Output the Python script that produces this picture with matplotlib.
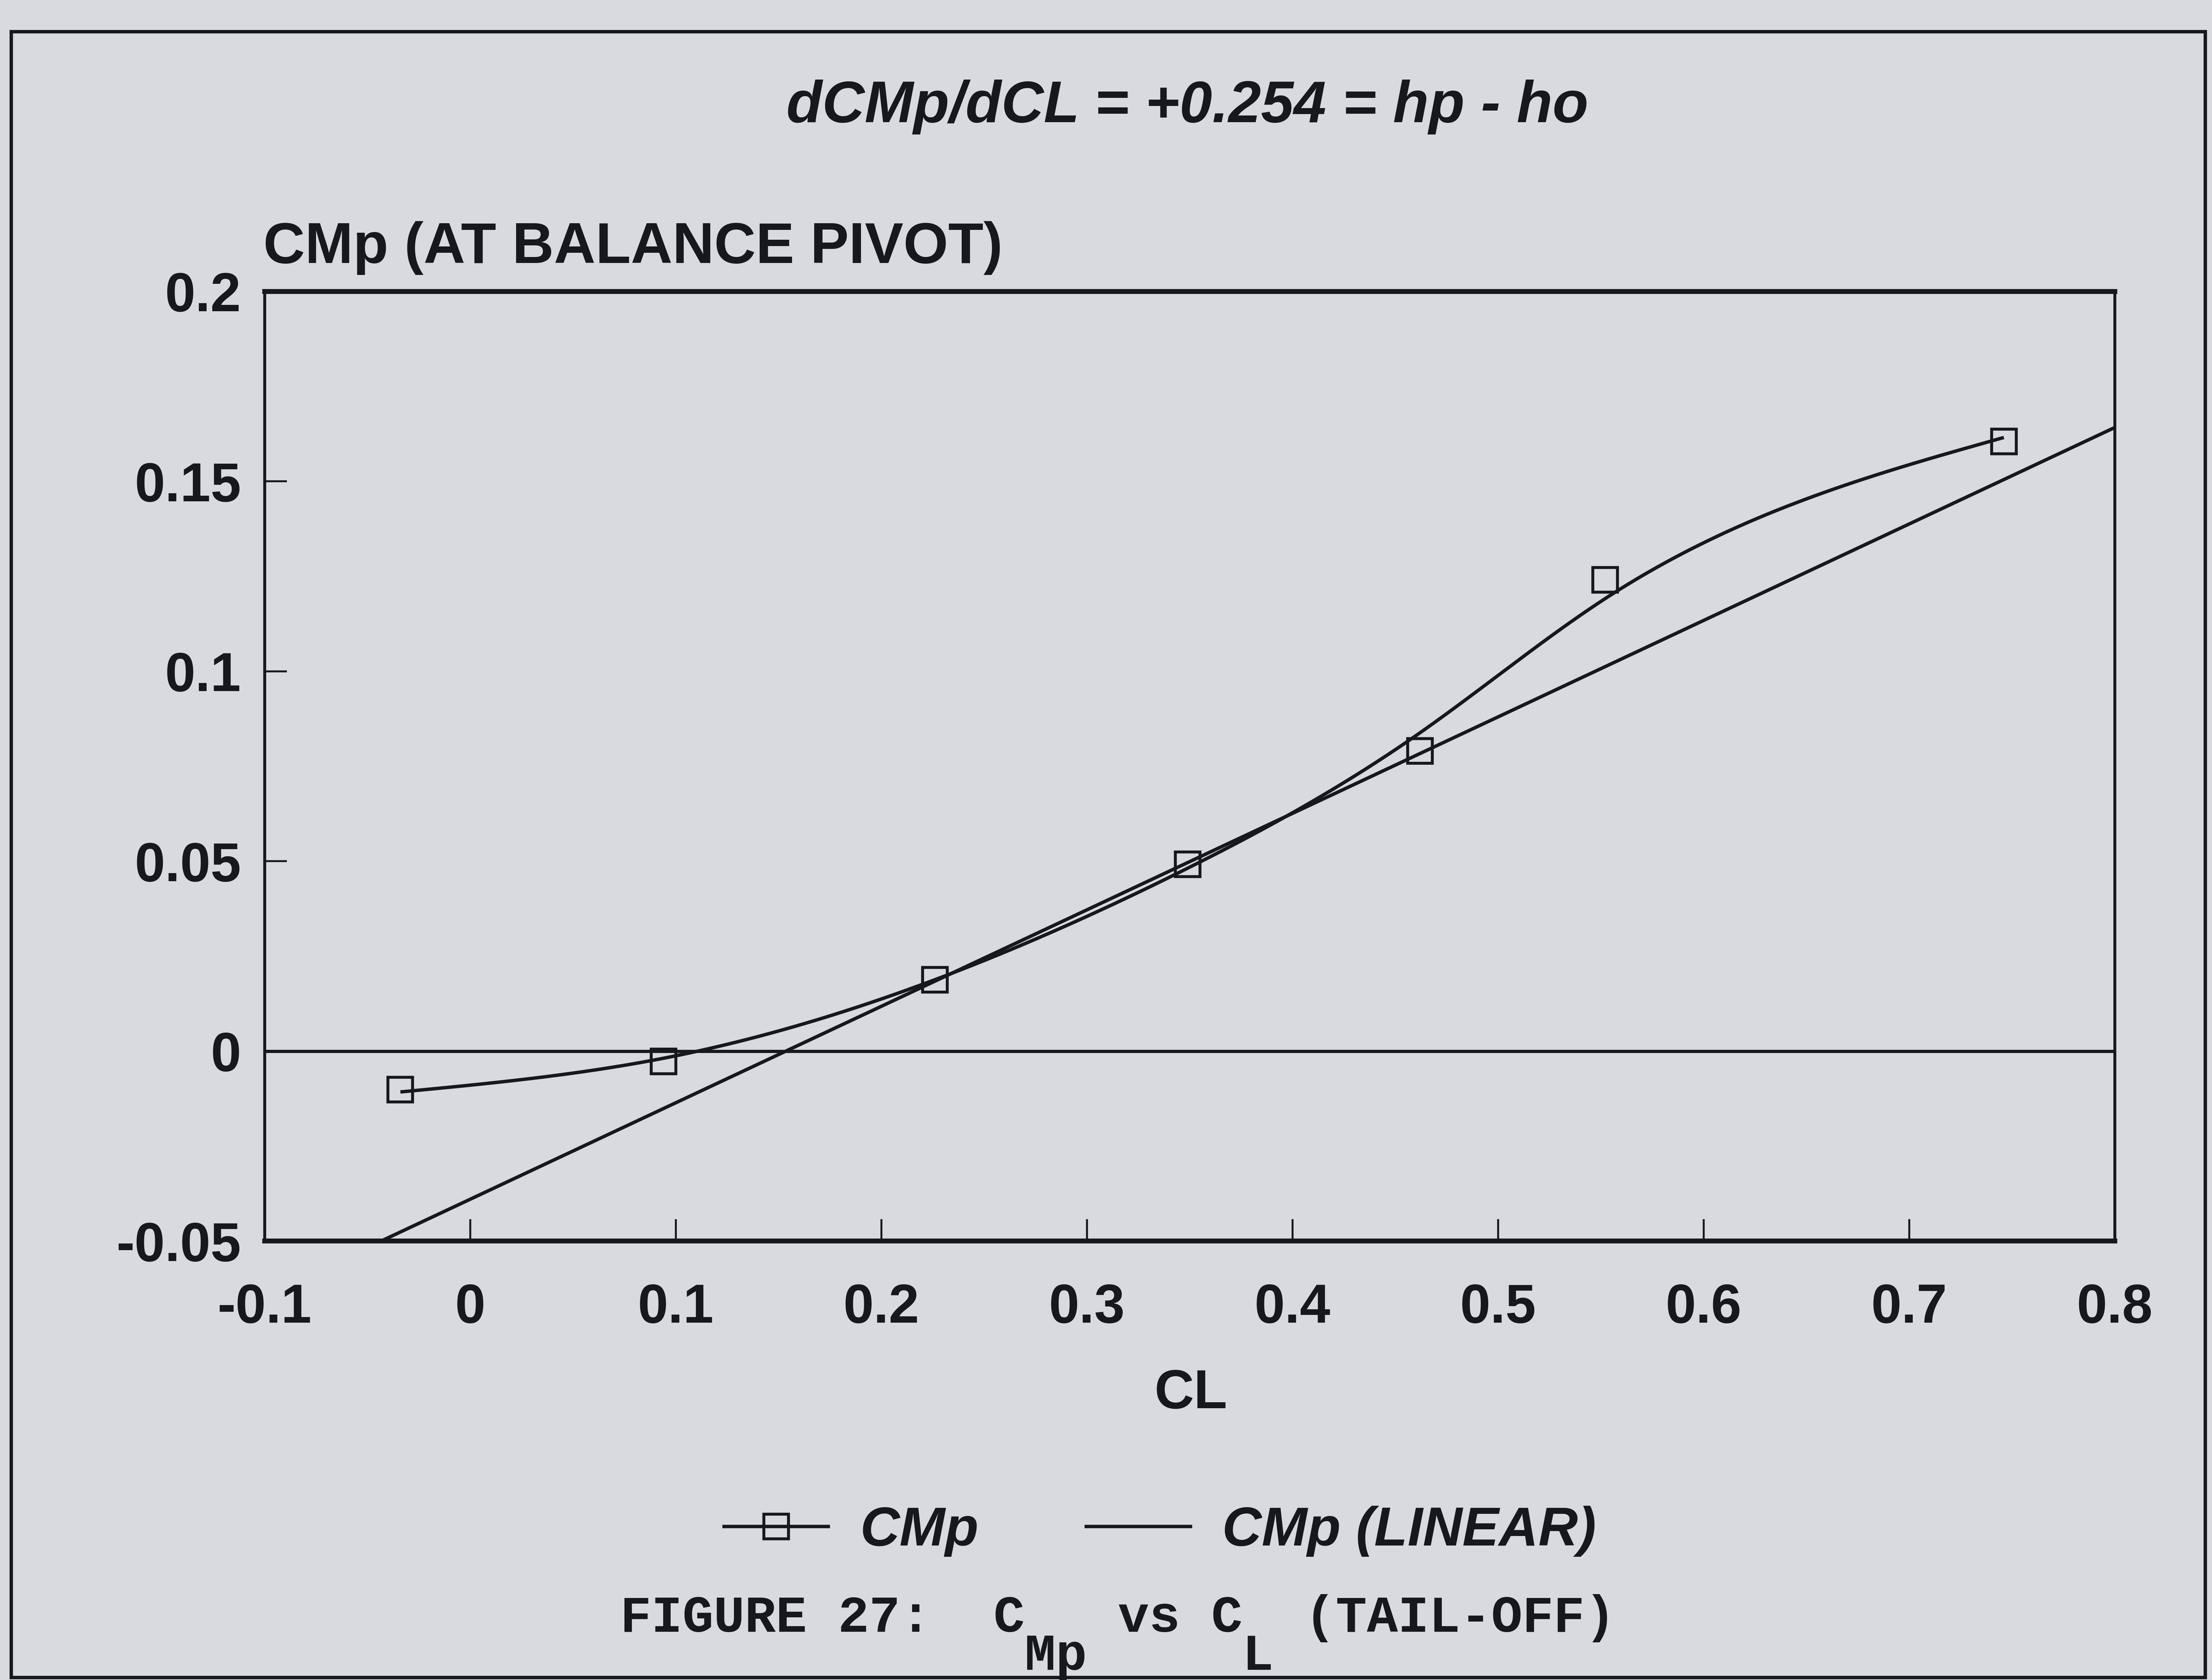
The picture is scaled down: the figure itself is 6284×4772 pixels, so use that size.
import matplotlib
matplotlib.use("Agg")
import matplotlib.pyplot as plt
from matplotlib.lines import Line2D
from matplotlib.patches import Rectangle
import numpy as np

# CMp at the balance pivot against CL, tail-off
cl_points = np.array([-0.034, 0.094, 0.226, 0.349, 0.462, 0.552, 0.746])
cmp_points = np.array([-0.0101, -0.0027, 0.0188, 0.0492, 0.0790, 0.1241, 0.1605])

# straight line quoted in the title: dCMp/dCL = +0.254
linear_slope = 0.254
linear_intercept = -0.039

x_ticks = [-0.1, 0, 0.1, 0.2, 0.3, 0.4, 0.5, 0.6, 0.7, 0.8]
x_tick_labels = ['-0.1', '0', '0.1', '0.2', '0.3', '0.4', '0.5', '0.6', '0.7', '0.8']
y_ticks = [-0.05, 0, 0.05, 0.1, 0.15, 0.2]
y_tick_labels = ['-0.05', '0', '0.05', '0.1', '0.15', '0.2']

INK = '#17171e'
PAPER = '#d9dadf'
W, H = 6284, 4772


def smooth_spline(x, y, lam, num=500):
    # cubic smoothing spline (Reinsch), natural end conditions
    n = len(x)
    h = np.diff(x)
    Q = np.zeros((n, n - 2))
    R = np.zeros((n - 2, n - 2))
    for j in range(1, n - 1):
        Q[j - 1, j - 1] = 1 / h[j - 1]
        Q[j, j - 1] = -1 / h[j - 1] - 1 / h[j]
        Q[j + 1, j - 1] = 1 / h[j]
        R[j - 1, j - 1] = (h[j - 1] + h[j]) / 3
        if j < n - 2:
            R[j - 1, j] = h[j] / 6
            R[j, j - 1] = h[j] / 6
    gamma = np.linalg.solve(R + lam * Q.T @ Q, Q.T @ y)
    g = y - lam * Q @ gamma
    M = np.concatenate([[0.0], gamma, [0.0]])
    t = np.linspace(x[0], x[-1], num)
    i = np.clip(np.searchsorted(x, t) - 1, 0, n - 2)
    a = t - x[i]
    b = x[i + 1] - t
    hi = h[i]
    f = (a * g[i + 1] + b * g[i]) / hi - a * b / 6 * ((1 + a / hi) * M[i + 1] + (1 + b / hi) * M[i])
    return t, f


plt.rcParams['font.family'] = ['Liberation Sans', 'DejaVu Sans']

fig = plt.figure(figsize=(W / 100, H / 100), dpi=100, facecolor=PAPER)
ax = fig.add_axes([752 / W, 1 - 3525 / H, (6008 - 752) / W, (3525 - 828) / H])
ax.set_facecolor(PAPER)

curve_x, curve_y = smooth_spline(cl_points, cmp_points, 1.0e-4)
ax.plot(curve_x, curve_y, color=INK, lw=7, solid_capstyle='butt')
ax.plot(cl_points, cmp_points, linestyle='none', marker='s', ms=50,
        mfc='none', mec=INK, mew=6)

lin_x = np.array([x_ticks[0], x_ticks[-1]])
ax.plot(lin_x, linear_slope * lin_x + linear_intercept, color=INK, lw=7)

ax.axhline(0, color=INK, lw=6.5)

ax.set_xlim(x_ticks[0], x_ticks[-1])
ax.set_ylim(y_ticks[0], y_ticks[-1])
ax.set_xticks(x_ticks)
ax.set_xticklabels(x_tick_labels)
ax.set_yticks(y_ticks)
ax.set_yticklabels(y_tick_labels)
ax.tick_params(direction='in', length=45, width=4, color=INK,
               labelsize=112, labelcolor=INK)
ax.tick_params(axis='x', pad=86)
ax.tick_params(axis='y', pad=48)
for lab in ax.get_xticklabels() + ax.get_yticklabels():
    lab.set_fontweight('bold')
for side in ['top', 'bottom']:
    ax.spines[side].set_linewidth(10)
    ax.spines[side].set_color(INK)
for side in ['left', 'right']:
    ax.spines[side].set_linewidth(6)
    ax.spines[side].set_color(INK)

fig.text(3373 / W, 1 - 347 / H, 'dCMp/dCL = +0.254 = hp - ho', ha='center',
         va='baseline', fontsize=120, fontweight='bold', fontstyle='italic', color=INK)
fig.text(748 / W, 1 - 747 / H, 'CMp (AT BALANCE PIVOT)', ha='left', va='baseline',
         fontsize=118, fontweight='bold', color=INK)
fig.text(3383 / W, 1 - 4000 / H, 'CL', ha='center', va='baseline',
         fontsize=112, fontweight='bold', color=INK)

handles = [
    Line2D([], [], color=INK, lw=7, marker='s', ms=50, mfc='none', mec=INK, mew=6),
    Line2D([], [], color=INK, lw=7),
]
fig.legend(handles, ['CMp', 'CMp (LINEAR)'], loc='center',
           bbox_to_anchor=(3296 / W, 1 - 4350 / H), ncol=2, frameon=False,
           prop=dict(family='Liberation Sans', weight='bold', style='italic', size=112),
           handlelength=1.9, handletextpad=0.58, columnspacing=1.97,
           labelcolor=INK)

# typewritten caption, subscripts typed half a line lower
caption = 'FIGURE 27:  C   vs C  (TAIL-OFF)\n             Mp     L'
fig.text(1762 / W, 1 - 4743 / H, caption, family='Liberation Mono', fontsize=106,
         fontweight='bold', color=INK, ha='left', va='baseline', linespacing=0.74)

fig.add_artist(Rectangle((32 / W, 7 / H), (6265 - 32) / W, (4765 - 90) / H,
                         transform=fig.transFigure, fill=False, ec=INK, lw=7))

fig.savefig('out.png', dpi=100, facecolor=PAPER)
